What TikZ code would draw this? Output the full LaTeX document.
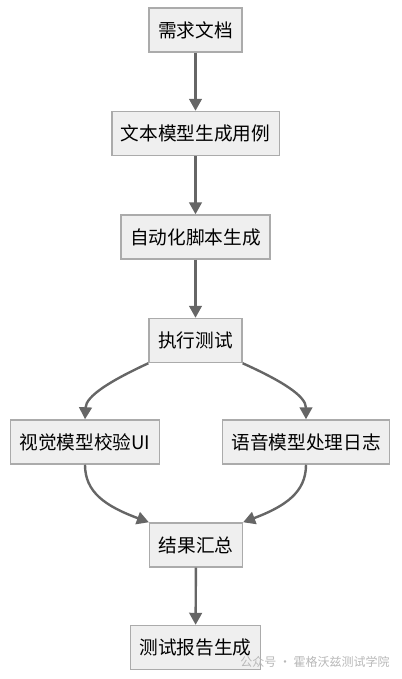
\documentclass[tikz,border=0pt]{standalone}
\usepackage{fontspec}
\setmainfont{Noto Sans CJK SC}
\usetikzlibrary{arrows.meta}
\definecolor{boxfill}{HTML}{EFEFEF}
\definecolor{boxline}{HTML}{ABABAB}
\definecolor{edgegray}{HTML}{666666}

\begin{document}
\begin{tikzpicture}
  [x=0.75pt,y=-0.75pt]
      \tikzstyle{box_style} = [fill=boxfill, draw=boxline, line width=1.1pt, minimum height=33pt, inner xsep=6.8pt, font=\fontsize{14}{16}\selectfont]
      \tikzstyle{edge_style} = [draw=edgegray, line width=1.8pt, -{Triangle[length=9pt,width=9.5pt]}]
  \useasboundingbox (0,0) rectangle (402,679);
  \node[box_style] (n1) at (195.5,30) {需求文档};
  \node[box_style] (n2) at (195.5,133.5) {文本模型生成用例};
  \node[box_style] (n3) at (195.5,237) {自动化脚本生成};
  \node[box_style] (n4) at (195.5,340.5) {执行测试};
  \node[box_style] (n5) at (85,442) {视觉模型校验UI};
  \node[box_style] (n6) at (306,442) {语音模型处理日志};
  \node[box_style] (n7) at (196,545) {结果汇总};
  \node[box_style] (n8) at (195.5,647.5) {测试报告生成};
  \node[text=black!28, font=\fontsize{9}{11}\selectfont] (n9) at (315,662) {公众号 · 霍格沃兹测试学院};
  \draw[edge_style] (n1) -- (n2);
  \draw[edge_style] (n2) -- (n3);
  \draw[edge_style] (n3) -- (n4);
  \draw[edge_style] (n4.south west) .. controls (110,381) and (86,396) .. (n5.north);
  \draw[edge_style] (n4.south east) .. controls (282,381) and (306,396) .. (n6.north);
  \draw[edge_style] (n5.south) .. controls (85,492) and (105,506) .. (n7.north west);
  \draw[edge_style] (n6.south) .. controls (306,492) and (286,506) .. (n7.north east);
  \draw[edge_style] (n7) -- (n8);
\end{tikzpicture}
\end{document}
